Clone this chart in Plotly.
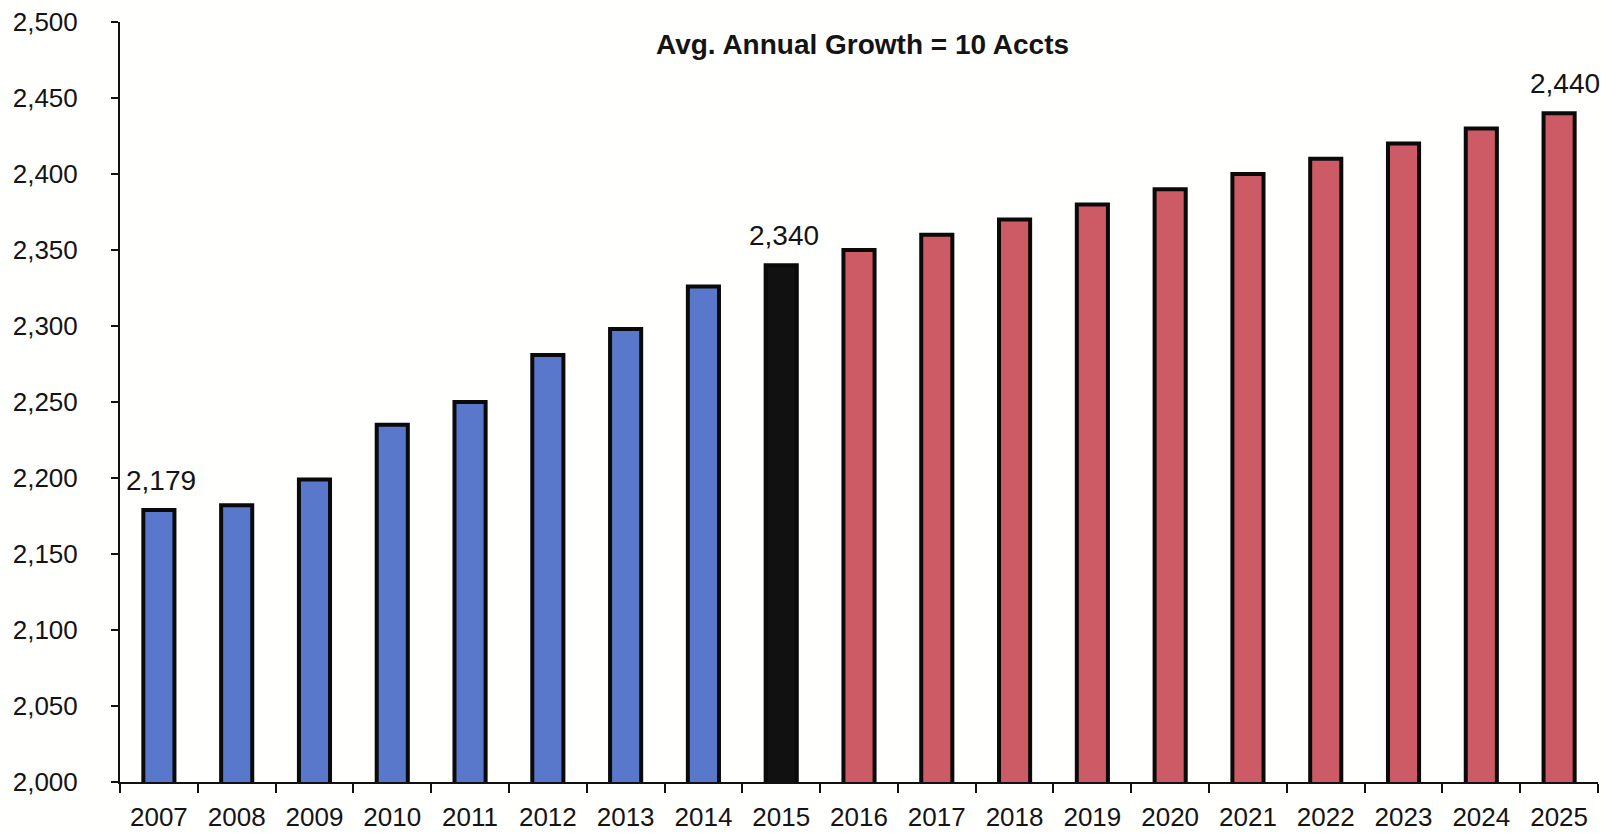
import plotly.graph_objects as go

# Accounts by year: actuals through 2014, 2015 base year, projections 2016-2025
years = [str(y) for y in range(2007, 2026)]
accounts = [2179, 2182, 2199, 2235, 2250, 2281, 2298, 2326, 2340,
            2350, 2360, 2370, 2380, 2390, 2400, 2410, 2420, 2430, 2440]
segment = ["actual"] * 8 + ["base"] + ["projected"] * 10
labelled_years = ["2007", "2015", "2025"]
title_text = "Avg. Annual Growth = 10 Accts"

palette = {"actual": "#5a78cb", "base": "#111111", "projected": "#cd5b65"}
bar_colors = [palette[s] for s in segment]

font_family = "Liberation Sans, Arial, sans-serif"
ink = "#141414"

fig = go.Figure(
    go.Bar(
        x=years,
        y=accounts,
        marker=dict(color=bar_colors, line=dict(color="#0a0a0a", width=4)),
        hoverinfo="x+y",
    )
)

# value labels above selected bars (positioned by category index)
label_x_shift = {"2007": 2, "2015": 3, "2025": 6}
for yr in labelled_years:
    i = years.index(yr)
    v = accounts[i]
    fig.add_annotation(
        x=i, y=v, text=f"{v:,}", showarrow=False,
        yanchor="bottom", yshift=12, xshift=label_x_shift[yr],
        font=dict(family=font_family, size=28, color=ink),
    )

fig.add_annotation(
    xref="paper", yref="paper", x=0.5, y=1.0, xanchor="center", yanchor="middle",
    xshift=3, yshift=-22,
    text=f"<b>{title_text}</b>", showarrow=False,
    font=dict(family=font_family, size=28, color=ink),
)

fig.update_layout(
    width=1611, height=833,
    margin=dict(l=120, r=13, t=22, b=51, autoexpand=False),
    paper_bgcolor="#fffffd",
    plot_bgcolor="#fffffd",
    bargap=0.6,
    showlegend=False,
    font=dict(family=font_family, size=26, color=ink),
    xaxis=dict(
        type="category",
        range=[-0.5, len(years) - 0.5],
        automargin=False,
        showline=True, linecolor="#111111", linewidth=2,
        ticks="outside", tickson="boundaries", ticklen=9, tickwidth=2,
        tickcolor="#111111",
        showgrid=False, zeroline=False,
        tickangle=0,
        tickfont=dict(family=font_family, size=26, color=ink),
        ticklabelstandoff=11,
    ),
    yaxis=dict(
        range=[2000, 2500],
        automargin=False,
        dtick=50, tick0=2000, tickformat=",",
        showline=True, linecolor="#111111", linewidth=2,
        ticks="outside", ticklen=7, tickwidth=2, tickcolor="#111111",
        showgrid=False, zeroline=False,
        tickfont=dict(family=font_family, size=26, color=ink),
        ticklabelstandoff=28,
    ),
)

fig.write_html("out.html")
